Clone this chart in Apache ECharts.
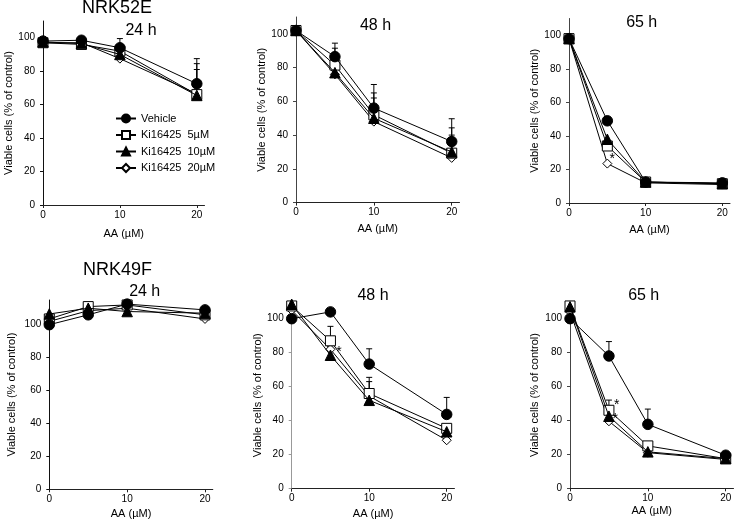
<!DOCTYPE html>
<html>
<head>
<meta charset="utf-8">
<script src="https://cdn.jsdelivr.net/npm/echarts@6/dist/echarts.min.js"></script>
<style>
html,body{margin:0;padding:0;background:#fff;}
#chart{width:740px;height:529px;}
</style>
</head>
<body>
<div id="chart"></div>
<script>
// ---------------- data ----------------
const doses = [0, 5, 10, 20];
const seriesNames = ['Vehicle', 'Ki16425  5µM', 'Ki16425  10µM', 'Ki16425  20µM'];
const cellLines = ['NRK52E', 'NRK49F'];
const timeLabels = ['24 h', '48 h', '65 h', '24 h', '48 h', '65 h'];
const yTicks = [0, 20, 40, 60, 80, 100];
const xTicks = [0, 10, 20];
const xAxisTitle = 'AA (µM)';
const yAxisTitle = 'Viable cells (% of control)';

// viable cells (% of control): Vehicle, 5µM, 10µM, 20µM
const nrk52e_24h_vehicle = [98, 98.5, 94, 72.5];
const nrk52e_24h_5uM = [97, 96, 92, 66];
const nrk52e_24h_10uM = [97.5, 96.5, 90, 65.5];
const nrk52e_24h_20uM = [97, 97, 87.5, 66.5];

const nrk52e_48h_vehicle = [102, 86.5, 56, 36.2];
const nrk52e_48h_5uM = [102, 81.5, 52, 29.3];
const nrk52e_48h_10uM = [102, 77, 50, 30];
const nrk52e_48h_20uM = [102, 76, 48, 26.5];

const nrk52e_65h_vehicle = [98, 49, 12.5, 12];
const nrk52e_65h_5uM = [98, 34, 12.5, 11.5];
const nrk52e_65h_10uM = [98, 38, 12.5, 11.5];
const nrk52e_65h_20uM = [98, 23.5, 12, 11];

const nrk49f_24h_vehicle = [100, 106, 112.5, 109];
const nrk49f_24h_5uM = [103.5, 111, 112, 106];
const nrk49f_24h_10uM = [106.5, 110, 108, 107];
const nrk49f_24h_20uM = [102, 108.5, 110, 103.5];

const nrk49f_48h_vehicle = [100, 104, 73.3, 43.7];
const nrk49f_48h_5uM = [107.5, 87, 56, 35.5];
const nrk49f_48h_10uM = [108.5, 78.5, 52, 33.5];
const nrk49f_48h_20uM = [105, 82, 54.5, 28.5];

const nrk49f_65h_vehicle = [100, 78, 37.7, 19.5];
const nrk49f_65h_5uM = [107.5, 46, 25, 17.5];
const nrk49f_65h_10uM = [107, 42.5, 21.5, 17.5];
const nrk49f_65h_20uM = [104, 39.5, 21, 17];

// upward error bars: [dose, series index, error]
const nrk52e_24h_err = [[10, 0, 5.5], [20, 0, 15], [20, 1, 18.5], [20, 3, 14.5]];
const nrk52e_48h_err = [[5, 0, 8], [5, 1, 10], [5, 2, 12], [10, 0, 14], [10, 1, 13], [10, 2, 12], [20, 0, 13.5], [20, 1, 15], [20, 2, 10]];
const nrk52e_65h_err = [[5, 1, 2]];
const nrk49f_24h_err = [];
const nrk49f_48h_err = [[5, 1, 8.5], [10, 0, 9], [10, 1, 9.5], [10, 2, 11], [20, 0, 10]];
const nrk49f_65h_err = [[5, 0, 8.5], [10, 0, 9], [5, 1, 6]];

// significance stars: [x, y]
const nrk52e_24h_stars = [];
const nrk52e_48h_stars = [];
const nrk52e_65h_stars = [[5.65, 27.5]];
const nrk49f_24h_stars = [];
const nrk49f_48h_stars = [[6.1, 81.5]];
const nrk49f_65h_stars = [[6.0, 50], [5.8, 42.2]];

// --------------- build ---------------
const panelValues = [
  [nrk52e_24h_vehicle, nrk52e_24h_5uM, nrk52e_24h_10uM, nrk52e_24h_20uM],
  [nrk52e_48h_vehicle, nrk52e_48h_5uM, nrk52e_48h_10uM, nrk52e_48h_20uM],
  [nrk52e_65h_vehicle, nrk52e_65h_5uM, nrk52e_65h_10uM, nrk52e_65h_20uM],
  [nrk49f_24h_vehicle, nrk49f_24h_5uM, nrk49f_24h_10uM, nrk49f_24h_20uM],
  [nrk49f_48h_vehicle, nrk49f_48h_5uM, nrk49f_48h_10uM, nrk49f_48h_20uM],
  [nrk49f_65h_vehicle, nrk49f_65h_5uM, nrk49f_65h_10uM, nrk49f_65h_20uM]
];
const panelErrors = [nrk52e_24h_err, nrk52e_48h_err, nrk52e_65h_err, nrk49f_24h_err, nrk49f_48h_err, nrk49f_65h_err];
const panelStars = [nrk52e_24h_stars, nrk52e_48h_stars, nrk52e_65h_stars, nrk49f_24h_stars, nrk49f_48h_stars, nrk49f_65h_stars];

const FONT = 'Liberation Sans, Arial, sans-serif';
const grids = [
  {left: 43, top: 21, width: 161.5, height: 184},
  {left: 296, top: 17, width: 163.5, height: 185.6},
  {left: 569, top: 18.5, width: 161, height: 184.5},
  {left: 49.3, top: 300, width: 163.5, height: 189.3},
  {left: 291.7, top: 301.7, width: 162.75, height: 187},
  {left: 570, top: 301.7, width: 163.5, height: 186.6}
];
const yMax = [110, 110, 110, 115, 110, 110];
const xNameGap = [23, 21, 21, 19, 20, 17];
const yNameGap = [28, 28, 27, 32, 27, 30];
const yAxisColor = ['#111', '#444', '#444', '#111', '#999', '#444'];

const symbolStyles = [
  {symbol: 'circle', symbolSize: 10.5, itemStyle: {color: '#000', borderColor: '#000', borderWidth: 1}},
  {symbol: 'rect', symbolSize: 10, itemStyle: {color: '#fff', borderColor: '#000', borderWidth: 1}},
  {symbol: 'triangle', symbolSize: 10.5, itemStyle: {color: '#000', borderColor: '#000', borderWidth: 1}},
  {symbol: 'diamond', symbolSize: 9, itemStyle: {color: '#fff', borderColor: '#000', borderWidth: 1}}
];
const seriesZ = [6, 4, 5, 3];

const xAxes = [], yAxes = [], series = [];
grids.forEach((g, i) => {
  xAxes.push({
    gridIndex: i, type: 'value', min: 0, max: 21, interval: 10,
    name: xAxisTitle, nameLocation: 'middle', nameGap: xNameGap[i],
    nameTextStyle: {fontFamily: FONT, fontSize: 11, color: '#000'},
    axisLine: {show: true, onZero: false, lineStyle: {color: '#222', width: 1}},
    axisTick: {show: true, length: 3, customValues: xTicks, lineStyle: {color: '#222'}},
    axisLabel: {fontFamily: FONT, fontSize: 10, color: '#000', margin: 5, customValues: xTicks,
      formatter: v => (xTicks.indexOf(v) >= 0 ? String(v) : '')},
    splitLine: {show: false}
  });
  yAxes.push({
    gridIndex: i, type: 'value', min: 0, max: yMax[i], interval: 20,
    name: yAxisTitle, nameLocation: 'middle', nameGap: yNameGap[i], nameRotate: 90,
    nameTextStyle: {fontFamily: FONT, fontSize: 11, color: '#000'},
    axisLine: {show: true, onZero: false, lineStyle: {color: yAxisColor[i], width: 1}},
    axisTick: {show: true, length: 3, customValues: yTicks, lineStyle: {color: yAxisColor[i]}},
    axisLabel: {fontFamily: FONT, fontSize: 10, color: '#000', margin: 8, customValues: yTicks,
      formatter: v => (yTicks.indexOf(v) >= 0 ? String(v) : '')},
    splitLine: {show: false}
  });
  const vals = panelValues[i];
  vals.forEach((arr, s) => {
    series.push(Object.assign({
      name: seriesNames[s], type: 'line', xAxisIndex: i, yAxisIndex: i,
      data: doses.map((d, k) => [d, arr[k]]),
      lineStyle: {color: '#000', width: 1},
      showAllSymbol: true, clip: false, z: seriesZ[s], animation: false
    }, JSON.parse(JSON.stringify(symbolStyles[s]))));
  });
  // error bars
  series.push({
    type: 'custom', xAxisIndex: i, yAxisIndex: i, z: 2, animation: false, silent: true,
    data: panelErrors[i].map(e => [e[0], vals[e[1]][doses.indexOf(e[0])], e[2]]),
    renderItem: function (params, api) {
      const x = api.value(0), y = api.value(1), e = api.value(2);
      const p0 = api.coord([x, y]);
      const p1 = api.coord([x, y + e]);
      return {type: 'group', children: [
        {type: 'line', shape: {x1: p0[0], y1: p0[1], x2: p1[0], y2: p1[1]}, style: {stroke: '#000', lineWidth: 1}},
        {type: 'line', shape: {x1: p1[0] - 3, y1: p1[1], x2: p1[0] + 3, y2: p1[1]}, style: {stroke: '#000', lineWidth: 1}}
      ]};
    }
  });
  // stars
  series.push({
    type: 'custom', xAxisIndex: i, yAxisIndex: i, z: 7, animation: false, silent: true,
    data: panelStars[i],
    renderItem: function (params, api) {
      const p = api.coord([api.value(0), api.value(1)]);
      return {type: 'text', style: {text: '*', x: p[0], y: p[1] + 2, align: 'center', verticalAlign: 'middle',
        fontFamily: FONT, fontSize: 14, fill: '#000'}};
    }
  });
});

const titleGraphics = [
  {type: 'text', left: 118 - 36, top: -1, style: {text: cellLines[0], fontFamily: FONT, fontSize: 18, fill: '#000'}},
  {type: 'text', left: 120 - 37, top: 261, style: {text: cellLines[1], fontFamily: FONT, fontSize: 18, fill: '#000'}}
];
const timePos = [[141, 31], [375.5, 26], [641.7, 22.5], [144.7, 292], [373, 296], [643.7, 296]];
timePos.forEach((p, i) => {
  titleGraphics.push({type: 'text', x: p[0], y: p[1],
    style: {text: timeLabels[i], fontFamily: FONT, fontSize: 16, fill: '#000', align: 'center', verticalAlign: 'middle'}});
});

const option = {
  backgroundColor: '#fff',
  animation: false,
  grid: grids,
  xAxis: xAxes,
  yAxis: yAxes,
  legend: {
    data: seriesNames,
    orient: 'vertical', left: 115, top: 113, padding: 0,
    itemWidth: 20, itemHeight: 10, itemGap: 5.5,
    textStyle: {fontFamily: FONT, fontSize: 11, color: '#000'},
    selectedMode: false
  },
  graphic: titleGraphics,
  series: series
};

const chart = echarts.init(document.getElementById('chart'), null, {renderer: 'canvas'});
chart.setOption(option);
</script>
</body>
</html>
